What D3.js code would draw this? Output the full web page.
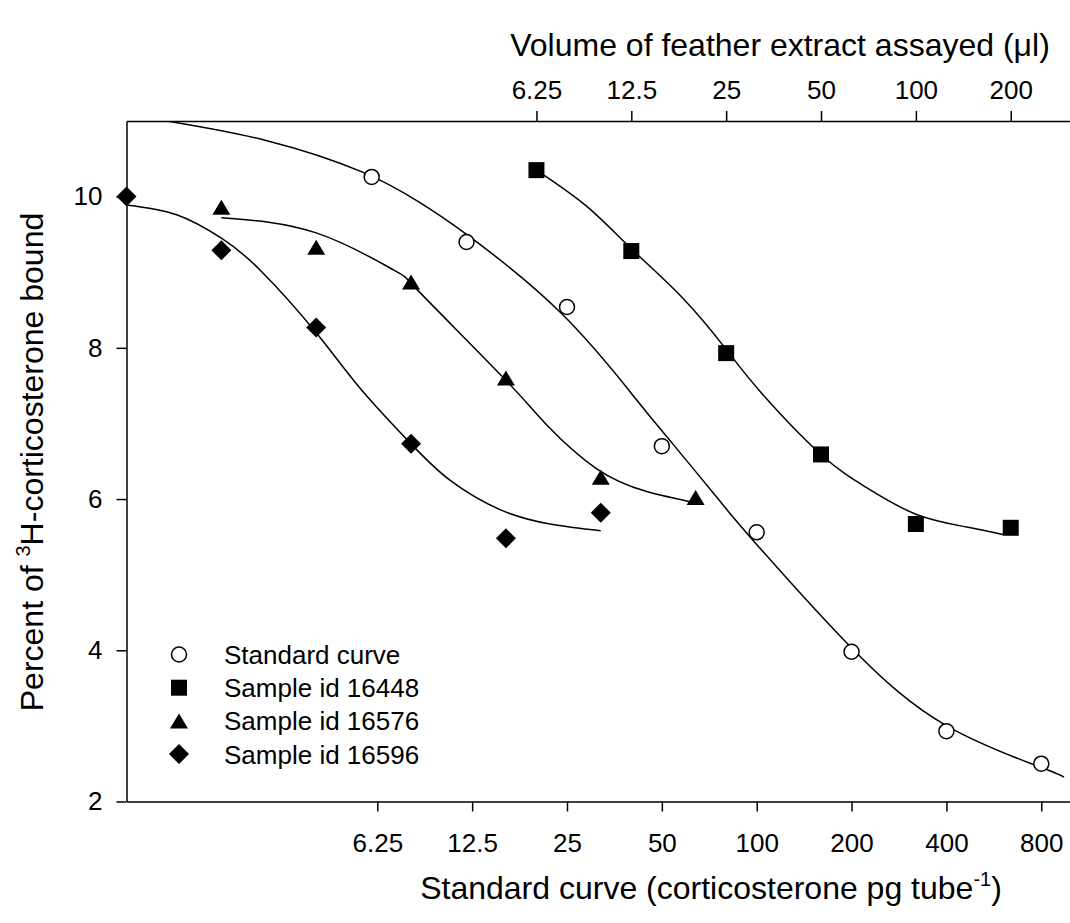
<!DOCTYPE html>
<html><head><meta charset="utf-8">
<script src="https://cdn.jsdelivr.net/npm/d3@7"></script>
<style>
body{margin:0;background:#fff}
text{font-family:Arial,"Liberation Sans",sans-serif;fill:#000}
</style>
</head><body>
<svg id="chart" width="1070" height="923"></svg>
<script>
// ---------- data ----------
const yTicks = [2, 4, 6, 8, 10];
const doseTicks = [6.25, 12.5, 25, 50, 100, 200, 400, 800];
const volumeTicks = [6.25, 12.5, 25, 50, 100, 200];

// Standard curve (dose, pg/tube) – bottom axis
const stdDose  = [6, 12, 25, 50, 100, 200, 400, 800];
const stdBound = [10.26, 9.40, 8.54, 6.70, 5.56, 3.98, 2.93, 2.50];
// Samples (volume, µl) – top axis
const s16448Vol   = [6.25, 12.5, 25, 50, 100, 200];
const s16448Bound = [10.35, 9.28, 7.93, 6.59, 5.67, 5.62];
const s16576Vol   = [0.625, 1.25, 2.5, 5, 10, 20];
const s16576Bound = [9.86, 9.33, 8.87, 7.60, 6.29, 6.02];
const s16596Vol   = [0.3125, 0.625, 1.25, 2.5, 5, 10];
const s16596Bound = [10.00, 9.29, 8.27, 6.73, 5.48, 5.82];

// Fitted curves
const stdFitDose  = [1.342, 2.79, 5.64, 8.54, 12.0, 23.8, 41.6, 54.4, 76.5, 97.6, 198, 401, 800, 944];
const stdFitBound = [11.0, 10.74, 10.32, 9.92, 9.50, 8.47, 7.31, 6.72, 5.97, 5.45, 4.05, 3.00, 2.45, 2.32];
const fit16448Vol   = [6.25, 9.03, 12.5, 18.28, 25, 32.4, 50, 69.8, 100, 145, 189];
const fit16448Bound = [10.35, 9.87, 9.31, 8.65, 7.98, 7.40, 6.59, 6.15, 5.80, 5.63, 5.53];
const fit16576Vol   = [0.625, 1.25, 2.20, 2.67, 5.0, 6.74, 9.71, 13.99, 20];
const fit16576Bound = [9.72, 9.52, 9.03, 8.73, 7.57, 6.98, 6.40, 6.10, 5.95];
const fit16596Vol   = [0.3125, 0.451, 0.625, 0.829, 1.25, 1.72, 2.5, 3.32, 4.79, 6.90, 10];
const fit16596Bound = [9.89, 9.76, 9.45, 9.03, 8.20, 7.47, 6.73, 6.25, 5.86, 5.67, 5.58];

const legendLabels = ["Standard curve", "Sample id 16448", "Sample id 16576", "Sample id 16596"];

// ---------- layout ----------
const L = 126.5, R = 1071.8, T = 121, B = 801.5;
const svg = d3.select("#chart");
const x = d3.scaleLog().domain([1, 1000]).range([L, R]);
const xTop = d3.scaleLog().domain([0.3125, 312.5]).range([L, R]);
const y = d3.scaleLinear().domain([2, 11]).range([B, T]);

svg.append("defs").append("clipPath").attr("id", "clip")
  .append("rect").attr("x", L).attr("y", T).attr("width", R - L).attr("height", B - T);

// marker shapes
const shapes = {
  circle: () => d3.symbol().type(d3.symbolCircle).size(Math.PI * 7.5 * 7.5)(),
  square: () => "M-8,-8H8V8H-8Z",
  triangle: () => "M0,-7.5L9,7.5L-9,7.5Z",
  diamond: () => "M0,-10L10,0L0,10L-10,0Z"
};
const styles = [
  {shape: "circle", fill: "#fff", stroke: "#000", sw: 1.5},
  {shape: "square", fill: "#000", stroke: "none", sw: 0},
  {shape: "triangle", fill: "#000", stroke: "none", sw: 0},
  {shape: "diamond", fill: "#000", stroke: "none", sw: 0}
];

// ---------- curves ----------
const line = d3.line().x(d => d[0]).y(d => d[1]).curve(d3.curveNatural);
const fits = [
  {sx: x, xs: stdFitDose, ys: stdFitBound},
  {sx: xTop, xs: fit16448Vol, ys: fit16448Bound},
  {sx: xTop, xs: fit16576Vol, ys: fit16576Bound},
  {sx: xTop, xs: fit16596Vol, ys: fit16596Bound}
];
const gCurves = svg.append("g").attr("clip-path", "url(#clip)");
fits.forEach(f => {
  const pts = f.xs.map((v, i) => [f.sx(v), y(f.ys[i])]);
  gCurves.append("path").attr("d", line(pts))
    .attr("fill", "none").attr("stroke", "#000").attr("stroke-width", 1.5);
});

// ---------- axes ----------
const fmt = d => String(d);
const axL = svg.append("g").attr("transform", `translate(${L},0)`)
  .call(d3.axisLeft(y).tickValues(yTicks).tickFormat(fmt).tickSize(10).tickSizeOuter(0).tickPadding(14));
const axB = svg.append("g").attr("transform", `translate(0,${B})`)
  .call(d3.axisBottom(x).tickValues(doseTicks).tickFormat(fmt).tickSize(10).tickSizeOuter(0).tickPadding(22));
const axT = svg.append("g").attr("transform", `translate(0,${T})`)
  .call(d3.axisTop(xTop).tickValues(volumeTicks).tickFormat(fmt).tickSize(10).tickSizeOuter(0).tickPadding(12));
[axL, axB, axT].forEach(a => {
  a.selectAll("path.domain").attr("stroke", "#000").attr("stroke-width", 1.5);
  a.selectAll(".tick line").attr("stroke", "#000").attr("stroke-width", 1.5);
  a.selectAll(".tick text").attr("font-size", 26).attr("font-family", "Arial, 'Liberation Sans', sans-serif").attr("fill", "#000");
});

// ---------- points ----------
const series = [
  {sx: x, xs: stdDose, ys: stdBound},
  {sx: xTop, xs: s16448Vol, ys: s16448Bound},
  {sx: xTop, xs: s16576Vol, ys: s16576Bound},
  {sx: xTop, xs: s16596Vol, ys: s16596Bound}
];
series.forEach((s, k) => {
  const st = styles[k];
  svg.append("g").selectAll("path").data(s.xs.map((v, i) => [v, s.ys[i]])).join("path")
    .attr("d", shapes[st.shape]())
    .attr("transform", d => `translate(${s.sx(d[0])},${y(d[1])})`)
    .attr("fill", st.fill).attr("stroke", st.stroke).attr("stroke-width", st.sw);
});

// ---------- legend ----------
const lg = svg.append("g");
legendLabels.forEach((lab, i) => {
  const cy = 654.5 + i * 33.2;
  const st = styles[i];
  lg.append("path").attr("d", shapes[st.shape]())
    .attr("transform", `translate(179,${cy})`)
    .attr("fill", st.fill).attr("stroke", st.stroke).attr("stroke-width", st.sw);
  lg.append("text").attr("x", 224).attr("y", cy + 9.5).attr("font-size", 26).text(lab);
});

// ---------- titles ----------
const tb = svg.append("text").attr("x", 711).attr("y", 899).attr("text-anchor", "middle").attr("font-size", 32);
tb.append("tspan").text("Standard curve (corticosterone pg tube");
tb.append("tspan").attr("font-size", 20).attr("dy", -13).text("-1");
tb.append("tspan").attr("dy", 13).text(")");

svg.append("text").attr("x", 780).attr("y", 56).attr("text-anchor", "middle").attr("font-size", 32)
  .text("Volume of feather extract assayed (\u03BCl)");

const ty = svg.append("text").attr("transform", "translate(43,462) rotate(-90)")
  .attr("text-anchor", "middle").attr("font-size", 32);
ty.append("tspan").text("Percent of ");
ty.append("tspan").attr("font-size", 20).attr("dy", -13).text("3");
ty.append("tspan").attr("dy", 13).text("H-corticosterone bound");
</script>
</body></html>
